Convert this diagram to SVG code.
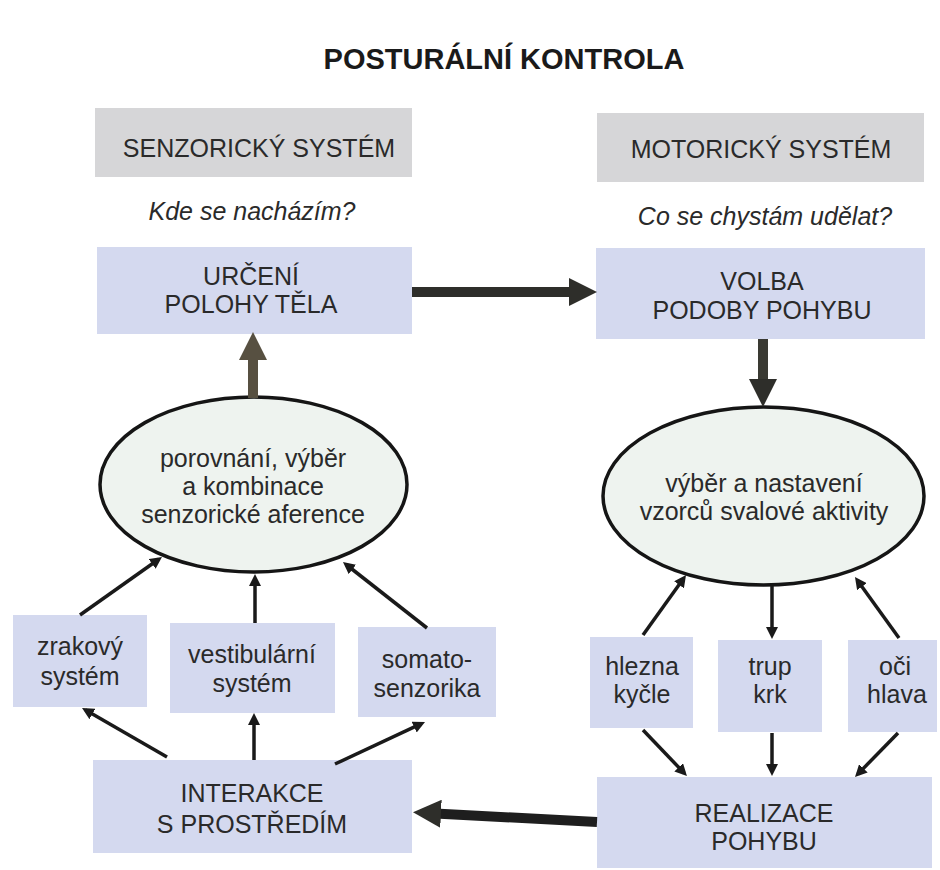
<svg xmlns="http://www.w3.org/2000/svg" width="940" height="870" viewBox="0 0 940 870">
<style>
text{font-family:"Liberation Sans",Arial,sans-serif;font-size:25px;fill:#2a2a2a;text-anchor:middle}
.title{font-weight:bold;font-size:29px;fill:#1a1a1a}
.it{font-style:italic}
.gray{fill:#d6d6d8}
.blue{fill:#d4d9ef}
.ell{fill:#eef3ef;stroke:#151515;stroke-width:3.5}
.thin{stroke:#1a1a1a;stroke-width:3.5;fill:none;marker-end:url(#ah)}
.thick{stroke-width:10;fill:none}
</style>
<defs>
<marker id="ah" markerUnits="userSpaceOnUse" viewBox="0 0 12 12" markerWidth="12" markerHeight="12" refX="8" refY="6" orient="auto"><path d="M0,0 L12,6 L0,12 z" fill="#1a1a1a"/></marker>
<marker id="big" markerUnits="userSpaceOnUse" viewBox="0 0 28 28" markerWidth="28" markerHeight="28" refX="15" refY="14" orient="auto"><path d="M0,0 L28,14 L0,28 z" fill="#2e2e2a"/></marker>
<marker id="bigb" markerUnits="userSpaceOnUse" viewBox="0 0 28 28" markerWidth="28" markerHeight="28" refX="15" refY="14" orient="auto"><path d="M0,0 L28,14 L0,28 z" fill="#575041"/></marker>
</defs>
<rect width="940" height="870" fill="#ffffff"/>
<text id="title" class="title" x="504" y="69">POSTURÁLNÍ KONTROLA</text>

<g id="senzoricky">
<rect class="gray" x="95" y="108" width="317" height="69"/>
<text x="259" y="157">SENZORICKÝ SYSTÉM</text>
</g>
<text id="q1" class="it" x="252" y="220">Kde se nacházím?</text>
<g id="motoricky">
<rect class="gray" x="597" y="113" width="327" height="69"/>
<text x="761" y="158">MOTORICKÝ SYSTÉM</text>
</g>
<text id="q2" class="it" x="765" y="225">Co se chystám udělat?</text>

<g id="urceni">
<rect class="blue" x="97" y="247" width="315" height="87"/>
<text x="251" y="285">URČENÍ</text>
<text x="251" y="313">POLOHY TĚLA</text>
</g>
<g id="volba">
<rect class="blue" x="596" y="248" width="329" height="91"/>
<text x="762" y="290">VOLBA</text>
<text x="762" y="319">PODOBY POHYBU</text>
</g>

<g id="porovnani">
<ellipse class="ell" cx="253.5" cy="484.5" rx="153.5" ry="87.5"/>
<text x="253" y="467">porovnání, výběr</text>
<text x="253" y="495">a kombinace</text>
<text x="253" y="523">senzorické aference</text>
</g>
<g id="vyber">
<ellipse class="ell" cx="763.5" cy="496" rx="160.5" ry="89"/>
<text x="764" y="492">výběr a nastavení</text>
<text x="764" y="520">vzorců svalové aktivity</text>
</g>

<g id="zrakovy">
<rect class="blue" x="13" y="615" width="134" height="92"/>
<text x="80" y="655">zrakový</text>
<text x="80" y="685">systém</text>
</g>
<g id="vestibularni">
<rect class="blue" x="170" y="623" width="165" height="90"/>
<text x="252" y="663">vestibulární</text>
<text x="252" y="692">systém</text>
</g>
<g id="somato">
<rect class="blue" x="358" y="627" width="138" height="90"/>
<text x="427" y="668">somato-</text>
<text x="427" y="697">senzorika</text>
</g>
<g id="interakce">
<rect class="blue" x="93" y="760" width="319" height="93"/>
<text x="252" y="802">INTERAKCE</text>
<text x="252" y="833">S PROSTŘEDÍM</text>
</g>

<g id="hlezna">
<rect class="blue" x="590" y="637" width="103" height="91"/>
<text x="642" y="675">hlezna</text>
<text x="642" y="703">kyčle</text>
</g>
<g id="trup">
<rect class="blue" x="718" y="640" width="104" height="92"/>
<text x="770" y="675">trup</text>
<text x="770" y="703">krk</text>
</g>
<g id="oci">
<rect class="blue" x="848" y="640" width="89" height="92"/>
<text x="895" y="675">oči</text>
<text x="897" y="703">hlava</text>
</g>
<g id="realizace">
<rect class="blue" x="597" y="777" width="335" height="91"/>
<text x="764" y="822">REALIZACE</text>
<text x="764" y="850">POHYBU</text>
</g>

<g id="connectors">
<line class="thick" x1="412" y1="292" x2="584" y2="292" stroke="#2e2e2a" marker-end="url(#big)"/>
<line class="thick" x1="763" y1="339" x2="763" y2="394" stroke="#3a3a33" marker-end="url(#big)"/>
<line class="thick" x1="253" y1="398" x2="253" y2="345" stroke="#575041" marker-end="url(#bigb)"/>
<line class="thick" x1="597" y1="822" x2="426" y2="813" stroke="#1e1e1e" marker-end="url(#big)"/>

<line class="thin" x1="80" y1="615" x2="158.7" y2="559.3"/>
<line class="thin" x1="255" y1="623" x2="255" y2="578"/>
<line class="thin" x1="427" y1="628" x2="346.1" y2="564.5"/>
<line class="thin" x1="167" y1="757" x2="85.5" y2="710"/>
<line class="thin" x1="254" y1="760" x2="254" y2="717"/>
<line class="thin" x1="335" y1="764" x2="421.4" y2="723.7"/>

<line class="thin" x1="643" y1="635" x2="683.7" y2="578.3"/>
<line class="thin" x1="772" y1="586" x2="772" y2="635"/>
<line class="thin" x1="899" y1="638" x2="857.3" y2="580.2"/>
<line class="thin" x1="643" y1="730" x2="684.2" y2="773.1"/>
<line class="thin" x1="772" y1="733" x2="772" y2="772"/>
<line class="thin" x1="898" y1="733" x2="857.8" y2="774.1"/>
</g>
</svg>
